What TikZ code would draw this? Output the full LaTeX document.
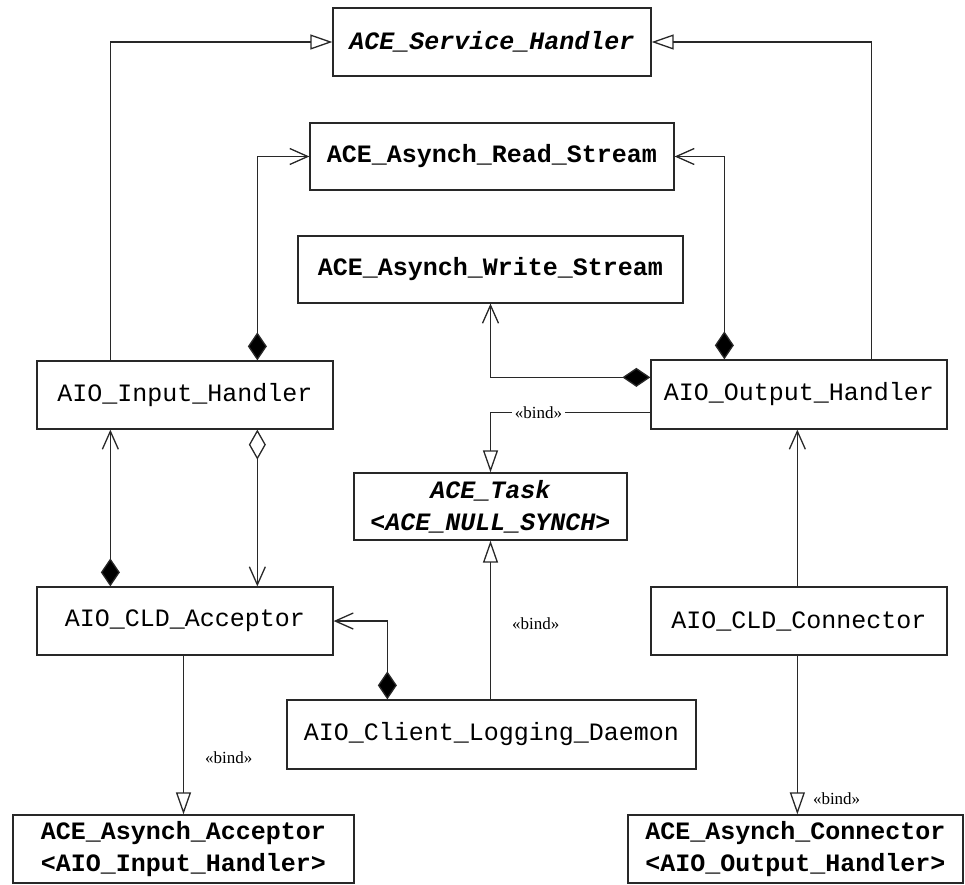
\documentclass[tikz,border=0pt]{standalone}
\usepackage{fontspec}
\setmainfont{Liberation Serif}
\setmonofont{Liberation Mono}
\usetikzlibrary{arrows.meta,calc}
\definecolor{ink}{RGB}{40,40,40}
\tikzset{
  cls/.style={draw=ink, line width=1.3pt, inner sep=0pt, align=center,
              font=\ttfamily\fontsize{25}{32}\selectfont},
  ace/.style={cls, font=\ttfamily\bfseries\fontsize{25}{32}\selectfont},
  acei/.style={cls, font=\ttfamily\bfseries\itshape\fontsize{25}{32}\selectfont},
  link/.style={draw=ink, line width=1.3pt},
  nav/.style={link, -{Straight Barb[length=18pt,width=16pt,line width=1.3pt]}},
  compnav/.style={link, {Diamond[length=28pt,width=19pt,fill=black]}-{Straight Barb[length=18pt,width=16pt,line width=1.3pt]}},
  aggrnav/.style={link, {Diamond[open,length=30pt,width=17pt]}-{Straight Barb[length=18pt,width=16pt,line width=1.3pt]}},
  gen/.style={link, -{Triangle[open,length=22pt,width=15pt]}},
  lbl/.style={font=\fontsize{17}{20}\selectfont, fill=white, inner sep=3pt}
}
\begin{document}
\begin{tikzpicture}[x=1pt,y=-1pt]
\useasboundingbox (0,0) rectangle (965,884);

% classes
\node[acei, minimum width=318pt, minimum height=68pt] (sh) at (492,42) {ACE\_Service\_Handler};
\node[ace, minimum width=364pt, minimum height=67pt] (rs) at (492,156.5) {ACE\_Asynch\_Read\_Stream};
\node[ace, minimum width=385pt, minimum height=67pt] (ws) at (490.5,269.5) {ACE\_Asynch\_Write\_Stream};
\node[cls, minimum width=296pt, minimum height=68pt] (ih) at (185,395) {AIO\_Input\_Handler};
\node[cls, minimum width=296pt, minimum height=69pt] (oh) at (799,394.5) {AIO\_Output\_Handler};
\node[acei, minimum width=273pt, minimum height=67pt] (task) at (490.5,506.5) {ACE\_Task\\<ACE\_NULL\_SYNCH>};
\node[cls, minimum width=296pt, minimum height=68pt] (acc) at (185,621) {AIO\_CLD\_Acceptor};
\node[cls, minimum width=296pt, minimum height=68pt] (con) at (799,621) {AIO\_CLD\_Connector};
\node[cls, minimum width=409pt, minimum height=69pt] (dae) at (491.5,734.5) {AIO\_Client\_Logging\_Daemon};
\node[ace, minimum width=341pt, minimum height=68pt] (aacc) at (183.5,849) {ACE\_Asynch\_Acceptor\\<AIO\_Input\_Handler>};
\node[ace, minimum width=335pt, minimum height=68pt] (acon) at (795.5,849) {ACE\_Asynch\_Connector\\<AIO\_Output\_Handler>};

% generalisation to the service handler
\draw[gen] ([xshift=74pt]ih.north west) |- (sh.west);
\draw[gen] ([xshift=221pt]oh.north west) |- (sh.east);

% read / write stream compositions
\draw[compnav] ([xshift=221pt]ih.north west) |- (rs.west);
\draw[compnav] ([xshift=74pt]oh.north west) |- (rs.east);
\draw[compnav] ([yshift=-18pt]oh.north west) -| (ws.south);

% bindings of ACE_Task
\draw[gen] ([yshift=-53pt]oh.north west) -| (task.north) node[pos=0.35, lbl] {«bind»};
\draw[gen] (task.south |- dae.north) -- (task.south) node[pos=0.48, right=18pt, lbl, fill=none] {«bind»};

% acceptor side
\draw[compnav] ([xshift=74pt]acc.north west) -- ([xshift=74pt]ih.south west);
\draw[aggrnav] ([xshift=221pt]ih.south west) -- ([xshift=221pt]acc.north west);
\draw[compnav] ([xshift=101pt]dae.north west) |- (acc.east);
\draw[gen] (aacc.north |- acc.south) -- (aacc.north) node[pos=0.64, right=18pt, lbl, fill=none] {«bind»};

% connector side
\draw[nav] ([xshift=147pt]con.north west) -- ([xshift=147pt]oh.south west);
\draw[gen] ([xshift=147pt]con.south west) -- ([xshift=147pt]con.south west |- acon.north) node[pos=0.9, right=12pt, lbl, fill=none] {«bind»};
\end{tikzpicture}
\end{document}
